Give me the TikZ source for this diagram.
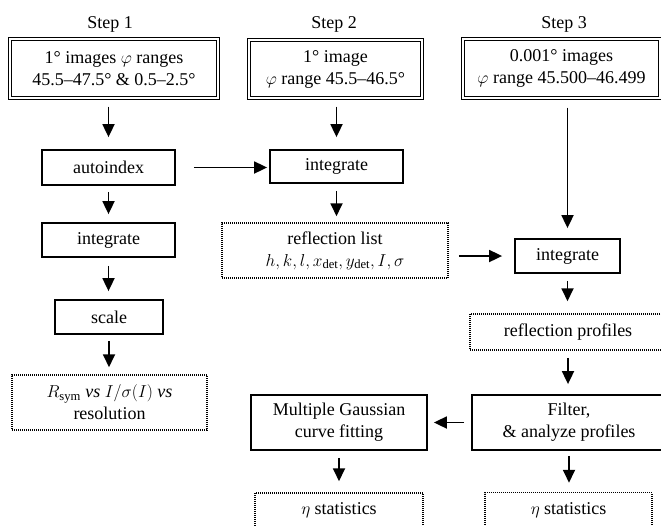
\documentclass[tikz,border=0pt]{standalone}
\usepackage{fontspec}
\setmainfont{Liberation Serif}
\usetikzlibrary{arrows.meta}
\begin{document}
\begin{tikzpicture}[x=1pt,y=-1pt,
  every node/.style={font=\fontsize{18}{22}\selectfont, align=center, inner sep=0pt},
  dbl/.style={draw, double, double distance=1.6pt, line width=1.1pt},
  sbox/.style={draw, line width=1.8pt},
  dbox/.style={draw, line width=1.5pt, dash pattern=on 1pt off 1pt},
  arr/.style={-{Triangle[length=13pt,width=12pt]}, line width=1.8pt}]
\useasboundingbox (0,0) rectangle (661,525);

\node (s1) at (110,24) {Step 1};
\node (s2) at (334,24) {Step 2};
\node (s3) at (564,24) {Step 3};

\node[dbl, minimum width=208, minimum height=59] (b1) at (114,68.5) {1° images $\varphi$ ranges\\45.5--47.5° \& 0.5--2.5°};
\node[dbl, minimum width=173, minimum height=58] (b2) at (335.5,69) {1° image\\$\varphi$ range 45.5--46.5°};
\node[dbl, minimum width=197, minimum height=59] (b3) at (561.5,68.5) {0.001° images\\$\varphi$ range 45.500--46.499};

\node[sbox, minimum width=133, minimum height=35] (auto) at (108.5,167.5) {autoindex};
\node[sbox, minimum width=133, minimum height=34] (int1) at (108.5,240) {integrate};
\node[sbox, minimum width=108, minimum height=34] (scale) at (109,317) {scale};
\node[dbox, minimum width=195, minimum height=55] (rsym) at (109.5,402.5) {$R_{\mathrm{sym}}$ \textit{vs} $I/\sigma(I)$ \textit{vs}\\resolution};
\node[sbox, minimum width=133, minimum height=33] (int2) at (336.5,166.5) {integrate};
\node[dbox, minimum width=226, minimum height=55] (rl) at (335,250.5) {reflection list\\$h, k, l, x_{\mathrm{det}}, y_{\mathrm{det}}, I, \sigma$};
\node[sbox, minimum width=105, minimum height=34] (int3) at (567.5,256) {integrate};
\node[dbox, minimum width=196, minimum height=36] (rp) at (568,332) {reflection profiles};
\node[sbox, minimum width=194, minimum height=55] (filt) at (569,422.5) {Filter,\\\& analyze profiles};
\node[sbox, minimum width=176, minimum height=55] (mg) at (339,422.5) {Multiple Gaussian\\curve fitting};
\node[dbox, minimum width=168, minimum height=34] (e1) at (339,510) {$\eta$ statistics};
\node[dbox, minimum width=167, minimum height=35] (e2) at (568.5,510) {$\eta$ statistics};

\draw[arr, shorten <=8pt, shorten >=12pt] (b1.south -| auto.north) -- (auto.north);
\draw[arr, shorten <=6pt, shorten >=8pt] (auto.south) -- (auto.south |- int1.north);
\draw[arr, shorten <=8pt, shorten >=8pt] (int1.south) -- (int1.south |- scale.north);
\draw[arr, shorten <=6pt, shorten >=7pt] (scale.south) -- (scale.south |- rsym.north);
\draw[arr, shorten <=18pt, shorten >=2pt] (auto.east) -- (auto.east -| int2.west);
\draw[arr, shorten <=8pt, shorten >=12pt] (b2.south -| int2.north) -- (int2.north);
\draw[arr, shorten <=7pt, shorten >=6pt] (int2.south) -- (int2.south |- rl.north);
\draw[arr, shorten <=10pt, shorten >=12pt] (rl.east |- int3.west) -- (int3.west);
\draw[arr, shorten <=9pt, shorten >=10pt] (b3.south -| int3.north) -- (int3.north);
\draw[arr, shorten <=7pt, shorten >=12pt] (int3.south) -- (int3.south |- rp.north);
\draw[arr, shorten <=7pt, shorten >=10pt] (rp.south) -- (rp.south |- filt.north);
\draw[arr, shorten <=7pt, shorten >=6pt] (filt.west |- mg.east) -- (mg.east);
\draw[arr, shorten <=7pt, shorten >=11pt] (mg.south) -- (mg.south |- e1.north);
\draw[arr, shorten <=5pt, shorten >=9pt] (filt.south) -- (filt.south |- e2.north);
\end{tikzpicture}
\end{document}
